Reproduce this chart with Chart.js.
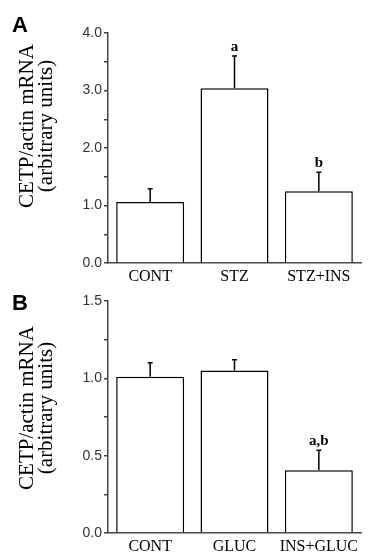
<!DOCTYPE html>
<html>
<head>
<meta charset="utf-8">
<script src="https://cdn.jsdelivr.net/npm/chart.js@4"></script>
<style>
body{margin:0;background:#fff}
#wrap{position:relative;width:368px;height:553px;overflow:hidden}
canvas{position:absolute;left:0}
.lbl{position:absolute;left:12px;font:bold 22px "Liberation Sans",Arial,sans-serif;line-height:22px}
</style>
</head>
<body>
<div id="wrap">
<canvas id="ca" width="368" height="290" style="top:0"></canvas>
<canvas id="cb" width="368" height="265" style="top:288px"></canvas>
<div class="lbl" style="top:14px">A</div>
<div class="lbl" style="top:292px">B</div>
</div>
<script>

// panel A
let catsA=["CONT","STZ","STZ+INS"]
let meanA=[1.06,3.04,1.25]
let semA=[0.23,0.56,0.33]
let sigA=["","a","b"]

// panel B
let catsB=["CONT","GLUC","INS+GLUC"]
let meanB=[1.01,1.05,0.405]
let semB=[0.09,0.07,0.13]
let sigB=["","","a,b"]

let yTitle=["CETP/actin mRNA","(arbitrary units)"]

// error bars, letters and y title
let extras={
id:'extras',
afterDatasetsDraw(chart,args,o){
let ctx=chart.ctx,x=chart.scales.x,y=chart.scales.y
ctx.save()
ctx.strokeStyle='#000'
ctx.fillStyle='#000'
ctx.lineWidth=1.5
o.mean.forEach((m,i)=>{
let px=x.getPixelForValue(i)
let y0=y.getPixelForValue(m)
let y1=y.getPixelForValue(m+o.sem[i])
ctx.beginPath()
ctx.moveTo(px,y0);ctx.lineTo(px,y1)
ctx.moveTo(px-2.5,y1);ctx.lineTo(px+2.5,y1)
ctx.stroke()
if(o.sig[i]){
ctx.font='bold 15px "Liberation Serif"'
ctx.textAlign='center'
ctx.fillText(o.sig[i],px,y1-5)
}
})
ctx.font='21px "Liberation Serif"'
ctx.textAlign='center'
ctx.translate(0,o.titleY)
ctx.rotate(-Math.PI/2)
ctx.fillText(yTitle[0],0,33)
ctx.fillText(yTitle[1],0,52)
ctx.restore()
}
}

function panel(id,cats,mean,sem,sig,ymax,step,xh,padTop,titleY){
return new Chart(document.getElementById(id),{
type:'bar',
data:{
labels:cats,
datasets:[{
data:mean,
backgroundColor:'#fff',
borderColor:'#000',
borderWidth:1.5,
barPercentage:0.806,
categoryPercentage:1
}]
},
options:{
responsive:false,
animation:false,
layout:{padding:{top:padTop,right:7,left:0,bottom:0}},
plugins:{
legend:{display:false},
tooltip:{enabled:false},
extras:{mean:mean,sem:sem,sig:sig,titleY:titleY}
},
scales:{
x:{
afterFit:s=>{s.height=xh},
grid:{display:false,drawTicks:false},
border:{color:'#444',width:1.5},
ticks:{padding:4,color:'#000',maxRotation:0,autoSkip:false,font:{family:'Liberation Serif',size:16}}
},
y:{
min:0,max:ymax,
afterFit:s=>{s.width=108},
grid:{drawOnChartArea:false,tickLength:4,color:'#444',lineWidth:1.5},
border:{color:'#444',width:1.5},
ticks:{stepSize:step,padding:2,color:'#333',autoSkip:false,
font:{family:'Liberation Sans',size:14},
callback:v=>Math.abs(v/(step*2)-Math.round(v/(step*2)))<1e-6?v.toFixed(1):''}
}
}
},
plugins:[extras]
})
}

panel("ca",catsA,meanA,semA,sigA,4,0.5,27,33,126)
panel("cb",catsB,meanB,semB,sigB,1.5,0.25,20,13,120)

</script>
</body>
</html>
